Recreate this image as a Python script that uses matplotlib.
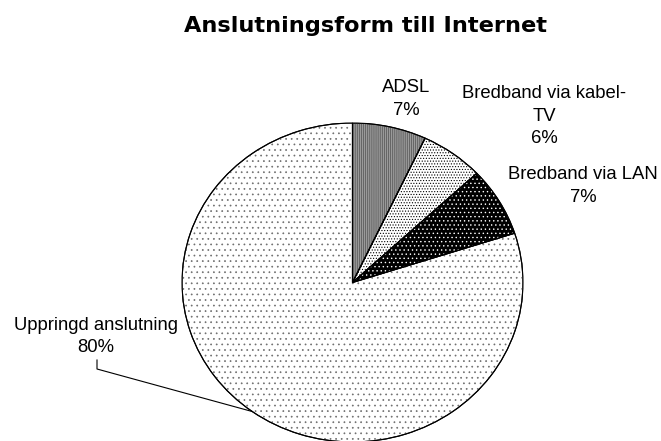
import numpy as np
import matplotlib
matplotlib.use("Agg")
import matplotlib.pyplot as plt
import matplotlib.patches as mpatches

# --- data ---
categories = ["ADSL", "Bredband via kabel-TV", "Bredband via LAN", "Uppringd anslutning"]
label_lines = [["ADSL"], ["Bredband via kabel-", "TV"], ["Bredband via LAN"], ["Uppringd anslutning"]]
shares = [7, 6, 7, 80]
title = "Anslutningsform till Internet"

# --- style ---
face_colors = ["#9a9a9a", "white", "black", "white"]
hatches = ["||||||||", "......", "....", "..."]
hatch_colors = ["#505050", "black", "white", "#6e6e6e"]

W, H = 661, 441
# pie is a bit wider than tall in the reference
cx, cy, rx, ry = 352.5, 282.5, 170.5, 159.5

# label anchor: centre x and first-line baseline, in pixels
label_pos = [(406, 92), (544, 98), (583, 179), (96, 330)]
line_gap = 22.5

plt.rcParams["hatch.linewidth"] = 0.5
plt.rcParams["font.family"] = ["Liberation Sans", "DejaVu Sans"]

fig = plt.figure(figsize=(W / 100, H / 100), dpi=100)
fig.patch.set_facecolor("white")
ax = fig.add_axes([(cx - rx) / W, (H - (cy + ry)) / H, 2 * rx / W, 2 * ry / H])


def to_data(px, py):
    return (px - cx) / rx, (cy - py) / ry


wedges = ax.pie(shares, colors=face_colors, startangle=90, counterclock=False,
                radius=1, wedgeprops=dict(edgecolor="black", linewidth=0.8))[0]
ax.set_aspect("auto")
ax.set_xlim(-1, 1)
ax.set_ylim(-1, 1)
ax.axis("off")

for w, hatch, hc in zip(wedges, hatches, hatch_colors):
    ax.add_patch(mpatches.Wedge((0, 0), 1, w.theta1, w.theta2, facecolor="none",
                                edgecolor=hc, hatch=hatch, linewidth=0, zorder=2))
    ax.add_patch(mpatches.Wedge((0, 0), 1, w.theta1, w.theta2, facecolor="none",
                                edgecolor="black", linewidth=0.8, zorder=3))

total = sum(shares)
for lines, val, (lx, ly) in zip(label_lines, shares, label_pos):
    rows = lines + [f"{val / total * 100:.0f}%"]
    for i, row in enumerate(rows):
        x, y = to_data(lx, ly + i * line_gap)
        ax.text(x, y, row, ha="center", va="baseline", fontsize=13.3,
                color="black", clip_on=False)

# leader line for the big slice
big = wedges[3]
mid = np.deg2rad((big.theta1 + big.theta2) / 2)
p0 = to_data(97, 360)
p1 = to_data(97, 369)
ax.plot([p0[0], p1[0], np.cos(mid)], [p0[1], p1[1], np.sin(mid)],
        color="black", linewidth=0.8, clip_on=False, zorder=4)

fig.text(366 / W, 1 - 31.5 / H, title, ha="center", va="baseline",
         fontsize=16.2, fontweight="bold", family="DejaVu Sans")

fig.savefig("out.png", dpi=100)
